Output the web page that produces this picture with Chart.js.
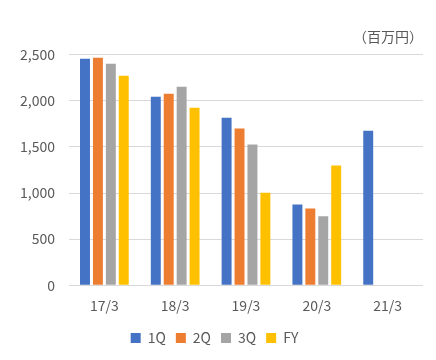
<!doctype html>
<html>
<head>
<meta charset="utf-8">
<title>Quarterly chart</title>
<script src="https://cdn.jsdelivr.net/npm/chart.js@4.4.1/dist/chart.umd.min.js"></script>
<style>
html, body { margin: 0; padding: 0; background: #fff; }
</style>
</head>
<body>
	<div id="container">
		<canvas id="canvas" width="436" height="360"></canvas>
	</div>

	<script>
	// categories (fiscal year end) and series values, in million yen
	var labels = ["17/3", "18/3", "19/3", "20/3", "21/3"];
	var q1 = [2457, 2045, 1818, 877, 1677];
	var q2 = [2468, 2078, 1699, 833, null];
	var q3 = [2403, 2154, 1526, 747, null];
	var fy = [2273, 1926, 1003, 1299, null];
	var yTicks = [0, 500, 1000, 1500, 2000, 2500];
	var unitLabel = "（百万円）";

	var fontFamily = "'Noto Sans CJK JP', 'DejaVu Sans', sans-serif";
	var textColor = "#595959";

	function series(label, data, colour) {
		return {
			label: label,
			data: data,
			backgroundColor: colour,
			borderWidth: 0,
			categoryPercentage: 0.73,
			barPercentage: 0.77
		};
	}

	var barChartData = {
		labels: labels,
		datasets: [
			series("1Q", q1, "#4472c4"),
			series("2Q", q2, "#ed7d31"),
			series("3Q", q3, "#a5a5a5"),
			series("FY", fy, "#ffc000")
		]
	};

	var ctx = document.getElementById('canvas').getContext('2d');
	window.myBar = new Chart(ctx, {
		type: 'bar',
		data: barChartData,
		options: {
			responsive: false,
			animation: false,
			maintainAspectRatio: false,
			layout: { padding: { left: 6, right: 13, top: 28, bottom: 5 } },
			plugins: {
				legend: {
					position: 'bottom',
					labels: {
						boxWidth: 10,
						boxHeight: 10,
						color: textColor,
						font: { family: fontFamily, size: 14 },
						padding: 10
					}
				},
				title: {
					display: true,
					text: unitLabel,
					align: 'end',
					color: textColor,
					font: { family: fontFamily, size: 14, weight: 'normal' },
					padding: { top: 0, bottom: 10 }
				},
				tooltip: { enabled: false }
			},
			scales: {
				x: {
					grid: { display: false },
					border: { display: false },
					afterFit: function (axis) { axis.height += 3; },
					ticks: {
						color: textColor,
						font: { family: fontFamily, size: 14 },
						padding: 4
					}
				},
				y: {
					min: 0,
					max: 2500,
					afterBuildTicks: function (axis) {
						axis.ticks = yTicks.map(function (v) { return { value: v }; });
					},
					grid: { color: "#d9d9d9", drawTicks: false },
					border: { display: false },
					ticks: {
						color: textColor,
						font: { family: fontFamily, size: 14 },
						padding: 14,
						callback: function (v) { return v.toLocaleString('en-US'); }
					}
				}
			}
		}
	});
	</script>
</body>
</html>
